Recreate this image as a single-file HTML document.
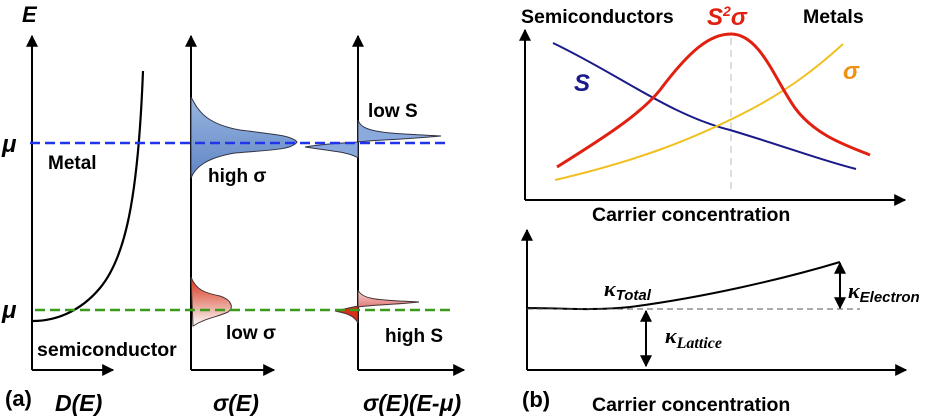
<!DOCTYPE html>
<html><head><meta charset="utf-8"><style>
body{margin:0;background:#fff}
svg{display:block;font-family:"Liberation Sans",sans-serif}
</style></head><body>
<svg width="930" height="418" viewBox="0 0 930 418" xmlns="http://www.w3.org/2000/svg">
<defs>
<marker id="ar" viewBox="0 0 10 10" refX="9" refY="5" markerWidth="6" markerHeight="6" orient="auto-start-reverse"><path d="M0,0 L10,5 L0,10 z" fill="#000"/></marker>
<linearGradient id="bg" x1="0" y1="0" x2="0" y2="1"><stop offset="0" stop-color="#9ab6e0"/><stop offset="1" stop-color="#5f86c4"/></linearGradient>
<linearGradient id="rg" x1="0" y1="0" x2="0" y2="1"><stop offset="0" stop-color="#d8301a"/><stop offset="0.6" stop-color="#eba79c"/><stop offset="1" stop-color="#fff"/></linearGradient>
<linearGradient id="rg2" x1="0" y1="0" x2="0" y2="1"><stop offset="0" stop-color="#fbdada"/><stop offset="1" stop-color="#e07a78"/></linearGradient>
</defs>
<g stroke="#000" stroke-width="2" fill="none">
<path d="M32,370 V36" marker-end="url(#ar)"/><path d="M32,370 H113" marker-end="url(#ar)"/>
<path d="M191,370 V36" marker-end="url(#ar)"/><path d="M191,370 H274" marker-end="url(#ar)"/>
<path d="M358,370 V36" marker-end="url(#ar)"/><path d="M358,370 H464" marker-end="url(#ar)"/>
<path d="M33,321 C55,321 80,312 100,288 C125,258 138,200 143,71" stroke-width="2.2"/>
</g>
<path d="M191,97 C198,110 205,124 240,130 C280,135 292,136 297,142 C292,150 270,150 235,153 C205,158 195,168 191,178 Z" fill="url(#bg)" stroke="#334" stroke-width="1"/>
<path d="M358,120 C362,132 380,133 441,136 C400,140 370,140 358,142 Z" fill="#8aaade" stroke="#334" stroke-width="1"/>
<path d="M305,147 C330,143 350,143 358,142 L358,158 C350,152 330,151 305,147 Z" fill="#8aaade" stroke="#334" stroke-width="1"/>
<path d="M191,277 C196,290 205,293 220,296 C232,300 234,308 228,312 C218,317 205,318 193,326 Z" fill="url(#rg)" stroke="#433" stroke-width="1"/>
<path d="M358,290 C362,300 380,300 419,302 C390,305 370,305 358,307 Z" fill="url(#rg2)" stroke="#433" stroke-width="1"/>
<path d="M335,311 C345,309 352,307 358,306 L358,323 C354,315 345,313 335,311 Z" fill="#d8301a" stroke="#433" stroke-width="1"/>
<path d="M30,143 H448" stroke="#2233ee" stroke-width="2.4" stroke-dasharray="10,5"/>
<path d="M35,310 H453" stroke="#3a9a1a" stroke-width="2.4" stroke-dasharray="10,5"/>
<g font-weight="bold" fill="#000">
<text x="22" y="22" font-size="22" font-style="italic">E</text>
<text x="2" y="152" font-size="24" font-style="italic">μ</text>
<text x="2" y="318" font-size="24" font-style="italic">μ</text>
<text x="48" y="169" font-size="19">Metal</text>
<text x="208" y="182" font-size="19">high σ</text>
<text x="368" y="117" font-size="19">low S</text>
<text x="226" y="339" font-size="19">low σ</text>
<text x="385" y="342" font-size="19">high S</text>
<text x="37" y="356" font-size="19.5">semiconductor</text>
<text x="5" y="406" font-size="22">(a)</text>
<text x="55" y="411" font-size="23" font-style="italic">D(E)</text>
<text x="213" y="411" font-size="23" font-style="italic">σ(E)</text>
<text x="363" y="411" font-size="23" font-style="italic">σ(E)(E-μ)</text>
</g>
<g stroke="#000" stroke-width="2" fill="none">
<path d="M525,200 V30" marker-end="url(#ar)"/><path d="M525,200 H905" marker-end="url(#ar)"/>
<path d="M527,370 V230" marker-end="url(#ar)"/><path d="M527,370 H906" marker-end="url(#ar)"/>
</g>
<path d="M731,38 V192" stroke="#ddd" stroke-width="2" stroke-dasharray="7,5"/>
<path d="M553,43 C620,75 670,115 730,130 C790,148 820,160 856,169" stroke="#1a1a8a" stroke-width="2" fill="none"/>
<path d="M555,180 C640,160 690,140 740,115 C790,90 820,65 843,44" stroke="#f0c020" stroke-width="2" fill="none"/>
<path d="M557,167 C600,140 640,115 660,90 C690,50 710,34 731,34 C760,34 775,80 795,108 C815,135 845,145 870,155" stroke="#e02010" stroke-width="3" fill="none"/>
<path d="M527,308 C560,308 590,311 630,307 C700,298 780,280 840,262" stroke="#000" stroke-width="2" fill="none"/>
<path d="M527,309 H860" stroke="#555" stroke-width="1" stroke-dasharray="6,4"/>
<path d="M840,263 V308" stroke="#000" stroke-width="2" marker-start="url(#ar)" marker-end="url(#ar)"/>
<path d="M646,311 V366" stroke="#000" stroke-width="2" marker-start="url(#ar)" marker-end="url(#ar)"/>
<g font-weight="bold">
<text x="521" y="23" font-size="19.5">Semiconductors</text>
<text x="707" y="25" font-size="24" fill="#e02010" font-style="italic">S<tspan font-size="14" dy="-9">2</tspan><tspan dy="9">σ</tspan></text>
<text x="803" y="23" font-size="19.5">Metals</text>
<text x="574" y="91" font-size="24" fill="#1a1a8a" font-style="italic">S</text>
<text x="843" y="79" font-size="24" fill="#f09010" font-style="italic">σ</text>
<text x="592" y="221" font-size="19.5">Carrier concentration</text>
<text x="522" y="407" font-size="22">(b)</text>
<text x="592" y="411" font-size="19.5">Carrier concentration</text>
</g>
<g font-family="Liberation Serif,serif" font-style="italic" font-weight="bold">
<text x="604" y="296" font-size="22">κ<tspan font-family="Liberation Sans,sans-serif" font-size="15" dy="4">Total</tspan></text>
<text x="848" y="298" font-size="22">κ<tspan font-family="Liberation Sans,sans-serif" font-size="15" dy="4">Electron</tspan></text>
<text x="665" y="343" font-size="22">κ<tspan font-size="16" dy="5">Lattice</tspan></text>
</g>
</svg>
</body></html>
